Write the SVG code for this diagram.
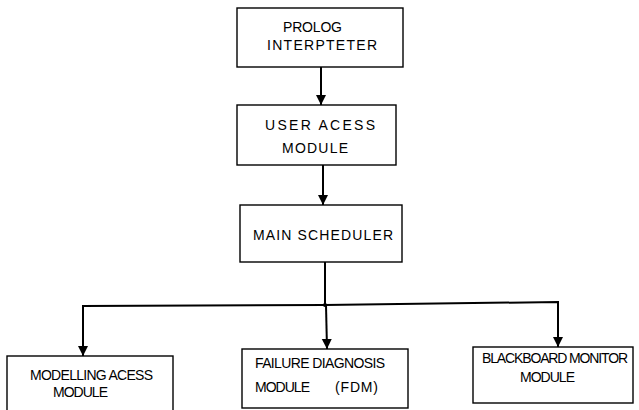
<svg xmlns="http://www.w3.org/2000/svg" width="639" height="410" viewBox="0 0 639 410">
<style>
.box{fill:#fff;stroke:#000;stroke-width:1.4}
.t{font-family:"Liberation Sans",Arial,sans-serif;font-size:14px;fill:#000}
.c{fill:none;stroke:#000;stroke-width:2}
</style>
<defs>
<marker id="ah" markerWidth="10" markerHeight="12" refX="10" refY="5" orient="auto" markerUnits="userSpaceOnUse">
<path d="M0,0 L10,5 L0,10 Z" fill="#000"/>
</marker>
</defs>
<rect width="639" height="410" fill="#fff"/>
<g id="connectors">
<line class="c" x1="321" y1="67" x2="321" y2="105" marker-end="url(#ah)"/>
<line class="c" x1="323" y1="165" x2="323" y2="205" marker-end="url(#ah)"/>
<polyline class="c" points="325,262 325,305"/>
<polyline class="c" points="325,305 83,306 83,356" marker-end="url(#ah)"/>
<line class="c" x1="326" y1="305" x2="327" y2="349" marker-end="url(#ah)"/>
<polyline class="c" points="325,305 558,302 558,347" marker-end="url(#ah)"/>
<circle cx="325" cy="305" r="2" fill="#000"/>
</g>
<g id="prolog">
<rect class="box" x="237" y="8" width="166" height="59"/>
<text class="t" x="283" y="32" textLength="59" lengthAdjust="spacing">PROLOG</text>
<text class="t" x="267" y="50" textLength="110" lengthAdjust="spacing">INTERPTETER</text>
</g>
<g id="user-access">
<rect class="box" x="237" y="105" width="159" height="60"/>
<text class="t" x="265" y="130" textLength="110" lengthAdjust="spacing">USER  ACESS</text>
<text class="t" x="282" y="153" textLength="66" lengthAdjust="spacing">MODULE</text>
</g>
<g id="scheduler">
<rect class="box" x="240" y="205" width="162" height="57"/>
<text class="t" x="253" y="240" textLength="140" lengthAdjust="spacing">MAIN SCHEDULER</text>
</g>
<g id="modelling">
<rect class="box" x="7" y="356" width="166" height="60"/>
<text class="t" x="30" y="380" textLength="123" lengthAdjust="spacing">MODELLING ACESS</text>
<text class="t" x="53" y="397" textLength="55" lengthAdjust="spacing">MODULE</text>
</g>
<g id="fdm">
<rect class="box" x="242" y="349" width="166" height="59"/>
<text class="t" x="255" y="368" textLength="130" lengthAdjust="spacing">FAILURE  DIAGNOSIS</text>
<text class="t" x="255" y="392" textLength="55" lengthAdjust="spacing">MODULE</text>
<text class="t" x="335" y="392" textLength="43" lengthAdjust="spacing">(FDM)</text>
</g>
<g id="blackboard">
<rect class="box" x="473" y="347" width="160" height="56"/>
<text class="t" x="482" y="363" textLength="146" lengthAdjust="spacing">BLACKBOARD MONITOR</text>
<text class="t" x="520" y="382" textLength="55" lengthAdjust="spacing">MODULE</text>
</g>
</svg>
